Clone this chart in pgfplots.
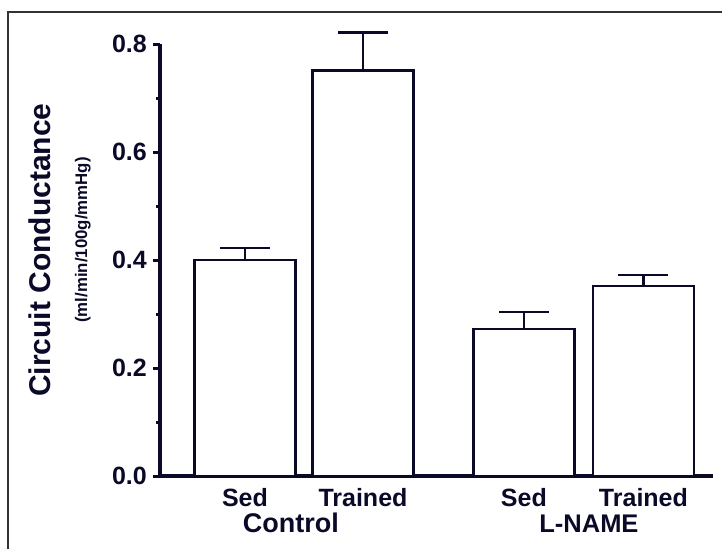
\documentclass[border=0pt]{standalone}
\usepackage{fontspec}
\setmainfont{Liberation Sans}
\usepackage{pgfplots}
\pgfplotsset{compat=1.18}
\definecolor{ink}{RGB}{10,10,40}

\begin{document}
\begin{tikzpicture}
\useasboundingbox (0,0) rectangle (722pt,549pt);
% frame (cut off at right and bottom)
\draw[line width=1.2pt, black!80] (8pt,0) -- (8pt,537pt) -- (722pt,537pt);

\begin{axis}[
    at={(160pt,73pt)}, anchor=south west,
    x=118pt, y=540pt,
    xmin=0.28, xmax=4.966,
    ymin=0, ymax=0.8,
    clip=false,
    axis x line=bottom, axis y line=left,
    axis line style={-, line width=3.5pt, ink},
    ytick={0,0.2,0.4,0.6,0.8},
    minor ytick={0.1,0.3,0.5,0.7},
    ytick align=outside,
    major tick length=7pt,
    minor tick length=4pt,
    y tick style={line width=3pt, ink},
    xtick={1,2,3.364,4.377},
    xticklabels={Sed,Trained,Sed,Trained},
    xtick style={draw=none},
    xtick align=inside,
    yticklabel style={font=\fontsize{25}{25}\selectfont\bfseries, text=ink,
        inner sep=0pt, xshift=-6pt,
        /pgf/number format/.cd, fixed, fixed zerofill, precision=1, assume math mode=true},
    xticklabel style={font=\fontsize{25}{25}\selectfont\bfseries, text=ink,
        anchor=base, yshift=-30pt},
]
\addplot[ybar, bar width=0.856, fill=white, draw=ink, line width=2.5pt,
    error bars/.cd, y dir=plus, y explicit, error mark=|,
    error bar style={line width=2.5pt, ink},
    error mark options={line width=2.5pt, mark size=25pt, ink}]
    coordinates {
    (1,0.400) +- (0,0.022)
    (2,0.751) +- (0,0.070)
    (3.364,0.272) +- (0,0.032)
    (4.377,0.352) +- (0,0.020)
    };
\node[anchor=base, yshift=-56.5pt, text=ink, font=\fontsize{27}{27}\selectfont\bfseries]
    at (axis cs:1.39,0) {Control};
\node[anchor=base, yshift=-56.5pt, text=ink, font=\fontsize{25.5}{25.5}\selectfont\bfseries]
    at (axis cs:3.915,0) {L-NAME};
\end{axis}

\node[rotate=90, anchor=base, text=ink, font=\fontsize{30}{30}\selectfont\bfseries]
    at (50pt,299pt) {Circuit Conductance};
\node[rotate=90, anchor=base, text=ink, font=\fontsize{16.8}{16.8}\selectfont\bfseries]
    at (87pt,309pt) {(ml/min/100g/mmHg)};
\end{tikzpicture}
\end{document}
